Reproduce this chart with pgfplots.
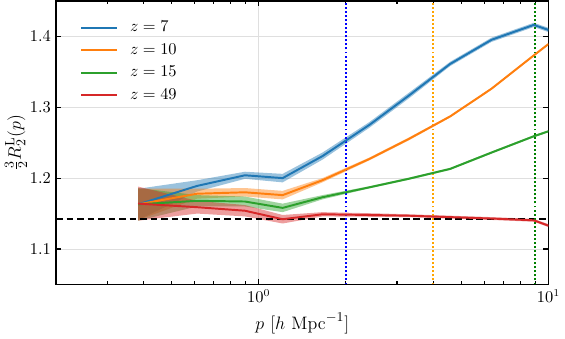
\documentclass[border=0pt]{standalone}
\usepackage{pgfplots}
\usepackage{pgfplotstable}
\pgfplotsset{compat=1.18}
\usepgfplotslibrary{fillbetween}

\definecolor{tabblue}{HTML}{1F77B4}
\definecolor{taborange}{HTML}{FF7F0E}
\definecolor{tabgreen}{HTML}{2CA02C}
\definecolor{tabred}{HTML}{D62728}
\definecolor{vorange}{HTML}{FFA500}
\definecolor{vgreen}{HTML}{008000}

% p, value, lower and upper edge of the band
\pgfplotstableread{
p y lo hi
0.384 1.163 1.141 1.185
0.613 1.189 1.181 1.197
0.897 1.204 1.199 1.209
1.21 1.200 1.194 1.206
1.66 1.231 1.226 1.236
2.41 1.275 1.271 1.279
3.29 1.316 1.312 1.320
4.58 1.361 1.358 1.364
6.36 1.395 1.392 1.398
8.9 1.416 1.413 1.419
10 1.409 1.406 1.412
}\zseven

\pgfplotstableread{
p y lo hi
0.384 1.163 1.141 1.185
0.613 1.178 1.171 1.185
0.897 1.180 1.174 1.186
1.21 1.176 1.170 1.182
1.66 1.197 1.194 1.200
2.41 1.227 1.225 1.229
3.29 1.255 1.253 1.257
4.58 1.287 1.2855 1.2885
6.36 1.326 1.3245 1.3275
8.9 1.373 1.3715 1.3745
10 1.389 1.3875 1.3905
}\zten

\pgfplotstableread{
p y lo hi
0.384 1.163 1.140 1.186
0.613 1.168 1.160 1.176
0.897 1.167 1.160 1.174
1.21 1.158 1.152 1.164
1.66 1.173 1.170 1.176
2.41 1.187 1.1855 1.1885
3.29 1.199 1.1975 1.2005
4.58 1.213 1.2115 1.2145
6.36 1.236 1.2345 1.2375
8.9 1.259 1.2575 1.2605
10 1.266 1.2645 1.2675
}\zfifteen

\pgfplotstableread{
p y lo hi
0.384 1.164 1.140 1.188
0.613 1.159 1.150 1.168
0.897 1.154 1.146 1.162
1.21 1.142 1.136 1.148
1.66 1.149 1.146 1.152
2.41 1.148 1.1455 1.1505
3.29 1.147 1.145 1.149
4.58 1.145 1.143 1.147
6.36 1.143 1.141 1.145
8.9 1.1405 1.1385 1.1425
10 1.133 1.131 1.135
}\zfortynine

\begin{document}
\begin{tikzpicture}
\begin{axis}[
    scale only axis,
    width=328pt,
    height=189pt,
    xmode=log,
    log basis x=10,
    xmin=0.2, xmax=10,
    ymin=1.05, ymax=1.45,
    ytick={1.1,1.2,1.3,1.4},
    yticklabel style={/pgf/number format/fixed, /pgf/number format/precision=1},
    tick label style={font=\fontsize{10.5}{12.6}\selectfont},
    label style={font=\fontsize{12.5}{15}\selectfont},
    xlabel={$p\ [h\ \mathrm{Mpc}^{-1}]$},
    ylabel={$\frac{3}{2}R_2^{\mathrm{L}}(p)$},
    xlabel style={yshift=0pt},
    ylabel style={yshift=-5pt},
    tick align=inside,
    tick pos=both,
    major tick length=3.5pt,
    minor tick length=2pt,
    tick style={black, line width=0.8pt},
    axis line style={black, line width=1.1pt},
    grid=major,
    major grid style={gray!25, line width=0.4pt},
    legend cell align=left,
    legend style={at={(0.048,0.94)}, anchor=north west, draw=none, fill=none,
        row sep=2.5pt, inner sep=0pt, font=\fontsize{10.95}{13}\selectfont,
        nodes={inner xsep=8pt}},
    legend image code/.code={\draw[#1, line width=1.3pt] (0pt,0pt) -- (24pt,0pt);},
]

% bands
\addplot[draw=none, name path=b7lo, forget plot] table[x=p, y=lo]{\zseven};
\addplot[draw=none, name path=b7hi, forget plot] table[x=p, y=hi]{\zseven};
\addplot[tabblue, fill opacity=0.45, draw=none, forget plot] fill between[of=b7hi and b7lo];
\addplot[draw=none, name path=b10lo, forget plot] table[x=p, y=lo]{\zten};
\addplot[draw=none, name path=b10hi, forget plot] table[x=p, y=hi]{\zten};
\addplot[taborange, fill opacity=0.45, draw=none, forget plot] fill between[of=b10hi and b10lo];
\addplot[draw=none, name path=b15lo, forget plot] table[x=p, y=lo]{\zfifteen};
\addplot[draw=none, name path=b15hi, forget plot] table[x=p, y=hi]{\zfifteen};
\addplot[tabgreen, fill opacity=0.45, draw=none, forget plot] fill between[of=b15hi and b15lo];
\addplot[draw=none, name path=b49lo, forget plot] table[x=p, y=lo]{\zfortynine};
\addplot[draw=none, name path=b49hi, forget plot] table[x=p, y=hi]{\zfortynine};
\addplot[tabred, fill opacity=0.45, draw=none, forget plot] fill between[of=b49hi and b49lo];

% reference lines
\addplot[black, line width=1.3pt, dash pattern=on 4.5pt off 2.5pt, forget plot]
    coordinates {(0.2,1.142857) (10,1.142857)};
\addplot[blue, line width=1.3pt, dash pattern=on 1.3pt off 1.4pt, forget plot]
    coordinates {(2,1.05) (2,1.45)};
\addplot[vorange, line width=1.3pt, dash pattern=on 1.3pt off 1.4pt, forget plot]
    coordinates {(4,1.05) (4,1.45)};
\addplot[vgreen, line width=1.3pt, dash pattern=on 1.3pt off 1.4pt, forget plot]
    coordinates {(9,1.05) (9,1.45)};

% lines
\addplot[tabblue, line width=1.3pt] table[x=p, y=y]{\zseven};
\addlegendentry{$z=7$}
\addplot[taborange, line width=1.3pt] table[x=p, y=y]{\zten};
\addlegendentry{$z=10$}
\addplot[tabgreen, line width=1.3pt] table[x=p, y=y]{\zfifteen};
\addlegendentry{$z=15$}
\addplot[tabred, line width=1.3pt] table[x=p, y=y]{\zfortynine};
\addlegendentry{$z=49$}

\end{axis}
\end{tikzpicture}
\end{document}
